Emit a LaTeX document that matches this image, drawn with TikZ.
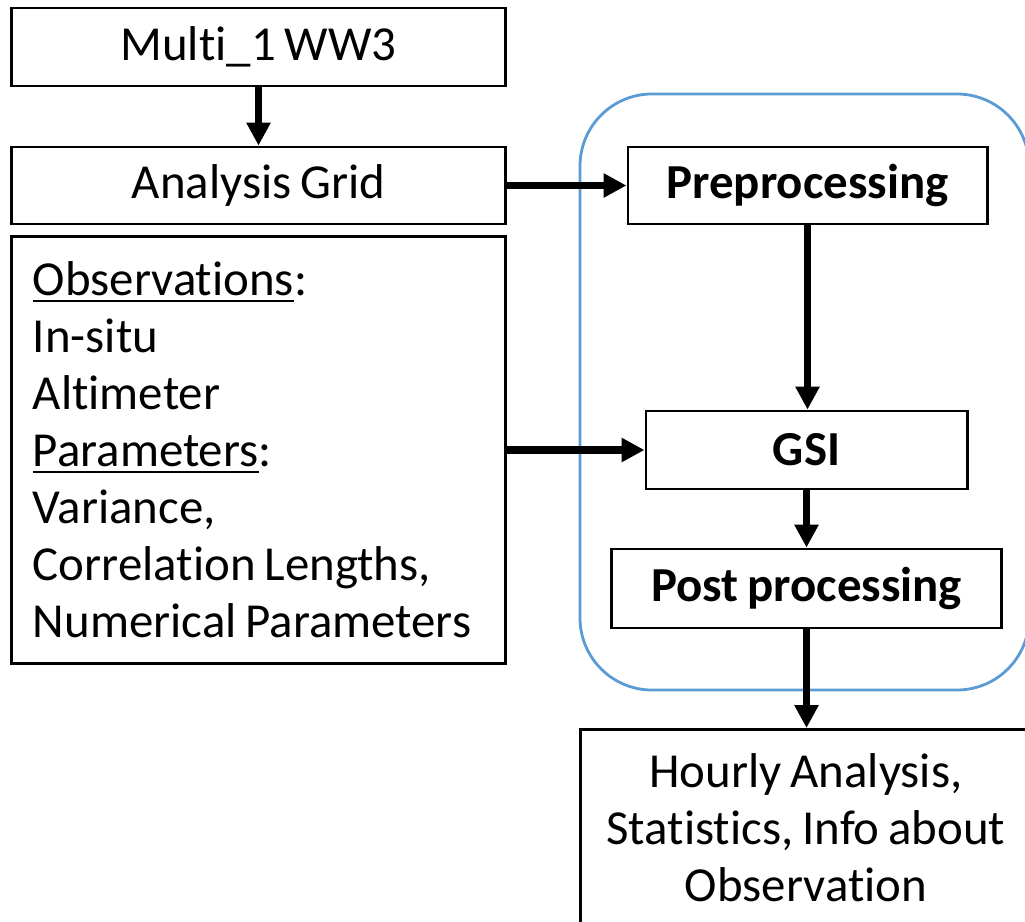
\documentclass[tikz,border=0pt]{standalone}
\usepackage{fontspec}
\setmainfont{Carlito}[Ligatures={NoCommon,NoRequired,NoContextual}, Contextuals=NoAlternate, WordSpace=0.8]
\usetikzlibrary{arrows.meta}
\definecolor{groupblue}{RGB}{91,155,213}
\tikzset{
	box/.style={draw=black, line width=0.8pt, inner sep=0pt, align=center,
		font=\fontsize{13.9pt}{16.2pt}\selectfont},
	boldbox/.style={box, font=\fontsize{13.9pt}{16.2pt}\selectfont\bfseries},
	flow/.style={line width=2.2pt, -{Triangle[length=6.5pt,width=6.5pt]}}
}

\begin{document}
\begin{tikzpicture}[x=0.01cm, y=-0.01cm]
		%%%%% START %%%%%
		\useasboundingbox (0, 0) rectangle (1025, 921);
		\clip (0, 0) rectangle (1025, 921);
		
		% group round the GSI steps
		\draw[line width=0.8pt, color=groupblue, rounded corners=0.72cm] (580, 94) rectangle (1029, 690);
		
		% input side
		\node[box, minimum width=4.93cm, minimum height=0.78cm] (multi) at (258.5, 47) {Multi\_1 WW3};
		\node[box, minimum width=4.93cm, minimum height=0.77cm] (grid) at (258.5, 185.5) {Analysis Grid};
		\node[box, align=flush left, text width=4.51cm, inner xsep=0.21cm, minimum width=4.93cm, minimum height=4.26cm] (obs) at (258.5, 450)
			{\underline{Observations}:\\In-situ\\Altimeter\\\underline{Parameters}:\\Variance,\\Correlation Lengths,\\Numerical Parameters};
		
		% processing steps
		\node[boldbox, minimum width=3.59cm, minimum height=0.77cm] (pre) at (807.5, 185.5) {Preprocessing};
		\node[boldbox, minimum width=3.21cm, minimum height=0.78cm] (gsi) at (806.5, 450) {GSI};
		\node[boldbox, minimum width=3.89cm, minimum height=0.79cm] (post) at (806.5, 588.5) {Post processing};
		
		% output
		\node[box, anchor=north, minimum width=4.5cm, minimum height=1.96cm] (out) at (806, 728)
			{Hourly Analysis,\\Statistics, Info about\\Observation};
		
		% connectors
		\draw[flow] (multi.south) -- (grid.north);
		\draw[flow] (grid.east) -- (pre.west);
		\draw[flow] (obs.east |- gsi.west) -- (gsi.west);
		\draw[flow] (pre.south) -- (pre.south |- gsi.north);
		\draw[flow] (gsi.south) -- (post.north);
		\draw[flow] (post.south) -- (post.south |- out.north);
		
		%%%%% END %%%%%
	\end{tikzpicture}
\end{document}
